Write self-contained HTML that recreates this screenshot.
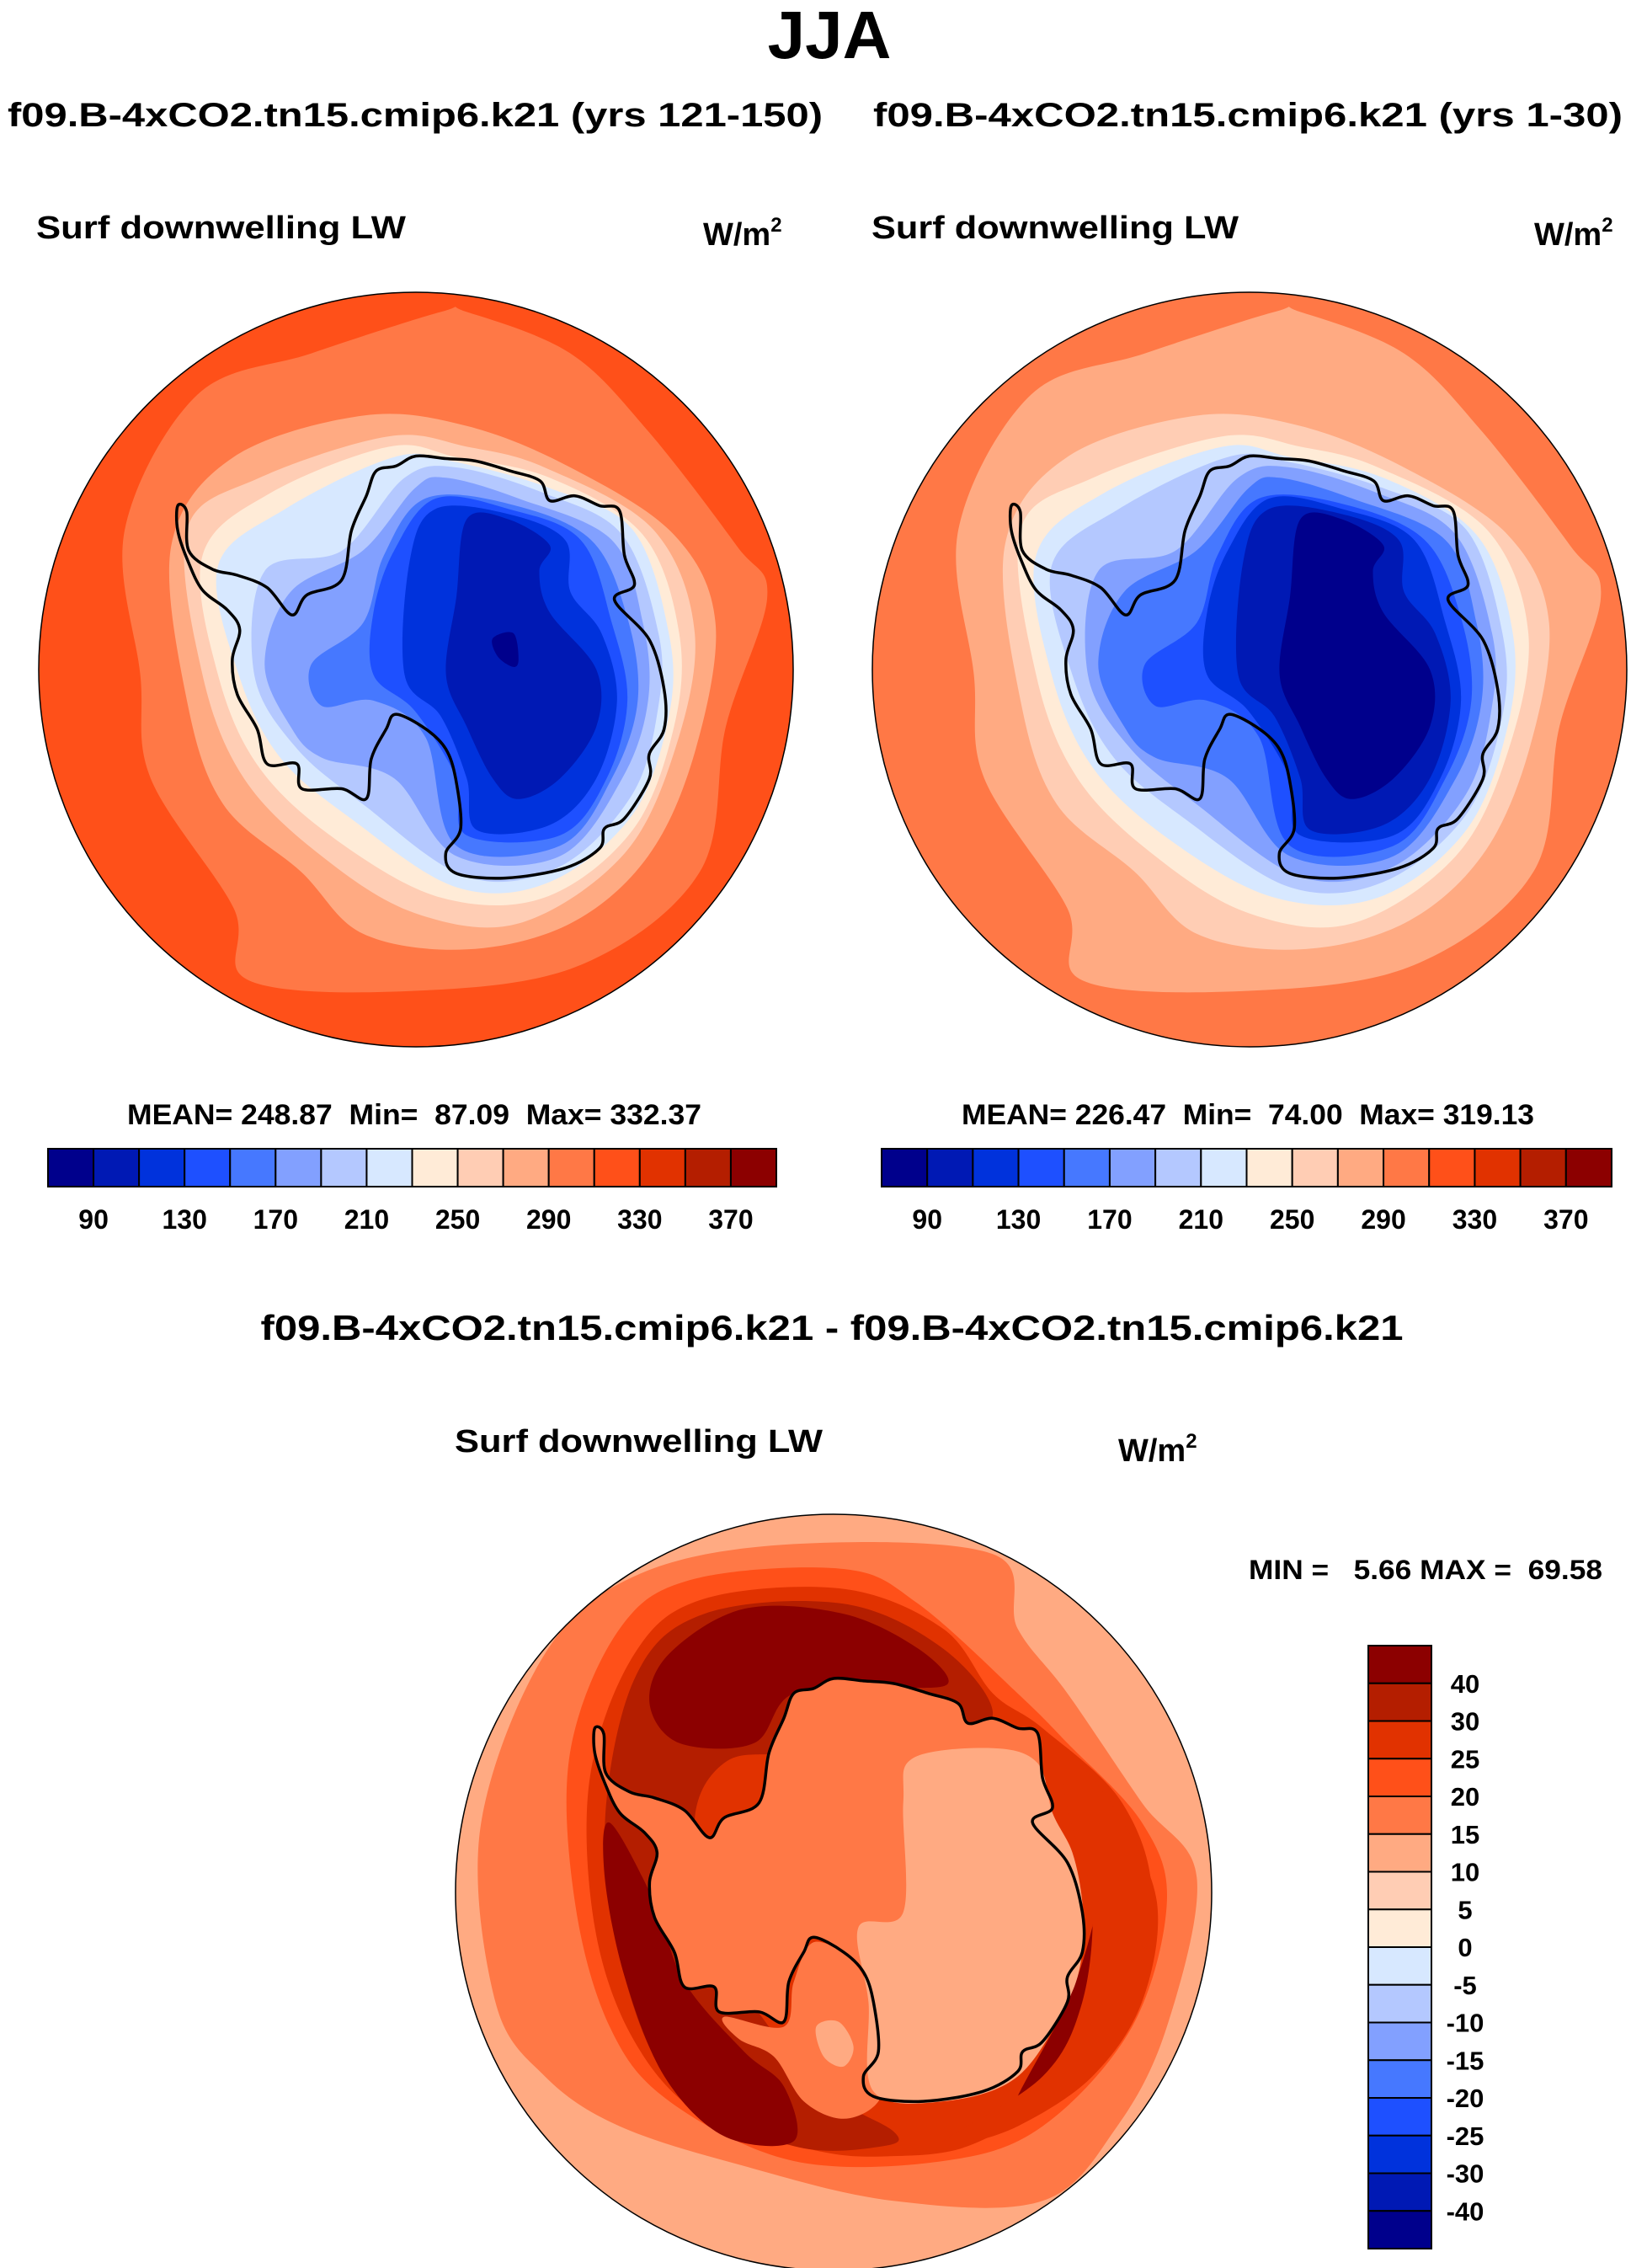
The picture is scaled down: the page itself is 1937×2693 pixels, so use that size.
<!DOCTYPE html>
<html><head><meta charset="utf-8"><style>
html,body{margin:0;padding:0;background:#fff}
svg{display:block}
text{font-family:"Liberation Sans",sans-serif;font-weight:bold;fill:#000;white-space:pre}
</style></head><body>
<svg id="fig" width="1937" height="2693" viewBox="0 0 1937 2693">
<text x="985" y="69" font-size="80" text-anchor="middle">JJA</text>
<text x="9" y="150" font-size="40" textLength="968" lengthAdjust="spacingAndGlyphs">f09.B-4xCO2.tn15.cmip6.k21 (yrs 121-150)</text>
<text x="1037" y="150" font-size="40" textLength="890" lengthAdjust="spacingAndGlyphs">f09.B-4xCO2.tn15.cmip6.k21 (yrs 1-30)</text>
<text x="43" y="283" font-size="38" textLength="439" lengthAdjust="spacingAndGlyphs">Surf downwelling LW</text>
<text x="835" y="291" font-size="38">W/m<tspan font-size="24" dy="-16">2</tspan></text>
<text x="1035" y="283" font-size="38" textLength="436" lengthAdjust="spacingAndGlyphs">Surf downwelling LW</text>
<text x="1822" y="291" font-size="38">W/m<tspan font-size="24" dy="-16">2</tspan></text>
<text x="151" y="1335" font-size="34" textLength="682" lengthAdjust="spacingAndGlyphs">MEAN=&#160;248.87&#160;&#160;Min=&#160;&#160;87.09&#160;&#160;Max=&#160;332.37</text>
<text x="1142" y="1335" font-size="34" textLength="680" lengthAdjust="spacingAndGlyphs">MEAN=&#160;226.47&#160;&#160;Min=&#160;&#160;74.00&#160;&#160;Max=&#160;319.13</text>
<text x="988" y="1591" font-size="42" text-anchor="middle" textLength="1357" lengthAdjust="spacingAndGlyphs">f09.B-4xCO2.tn15.cmip6.k21 - f09.B-4xCO2.tn15.cmip6.k21</text>
<text x="540" y="1724" font-size="38" textLength="437" lengthAdjust="spacingAndGlyphs">Surf downwelling LW</text>
<text x="1328" y="1735" font-size="38">W/m<tspan font-size="24" dy="-16">2</tspan></text>
<text x="1483" y="1875" font-size="32" textLength="420" lengthAdjust="spacingAndGlyphs">MIN&#160;=&#160;&#160;&#160;5.66&#160;MAX&#160;=&#160;&#160;69.58</text>
<g id="maps"></g>
</svg>
<script>
// ---- data ----
const paletteColors = ["#00008c","#0019b4","#0032dc","#1e50ff","#4678ff","#82a0ff","#b4c8ff","#d7e8ff","#ffebd7","#ffcdb4","#ffaa82","#ff7846","#ff5019","#e13200","#b41e00","#8c0000"];
const absTickLabels = ["90","130","170","210","250","290","330","370"];
const diffTickLabels = ["40","30","25","20","15","10","5","0","-5","-10","-15","-20","-25","-30","-40"];
// color index (1..16) of each contour band, drawn outer to inner
const leftBandLevels  = [13,12,11,10,9,8,7,6,5,4,3,2,1];
const rightBandLevels = [12,11,10,9,8,7,6,5,4,3,2,1,1];
const diffBandLevels  = [11,12,13,14,15,16,16,16,14,12,11,12,11];

// contour outlines (source pixel coords of the reference zoom)
const absShapes = [
 null,
 [[850,100],[600,180],[380,260],[240,520],[270,800],[290,1000],[450,1250],[480,1390],[800,1410],[1120,1360],[1350,1180],[1400,900],[1480,650],[1420,550],[1250,330],[1100,180],[900,100]],
 [[700,300],[450,380],[330,550],[360,850],[430,1050],[580,1180],[700,1300],[900,1330],[1100,1280],[1250,1150],[1340,950],[1380,700],[1300,530],[1100,400],[900,320]],
 [[750,340],[500,420],[360,520],[390,800],[470,1000],[620,1150],[800,1260],[1000,1280],[1200,1150],[1300,950],[1340,720],[1260,520],[1050,400],[900,360]],
 [[750,360],[520,450],[390,570],[420,800],[500,980],[650,1120],[850,1230],[1050,1230],[1220,1100],[1300,900],[1310,720],[1240,530],[1060,420],[880,380]],
 [[760,380],[550,480],[420,590],[460,800],[540,960],[680,1080],[880,1210],[1060,1200],[1220,1070],[1290,880],[1290,720],[1220,520],[1060,440],[880,390]],
 [[780,420],[660,560],[510,600],[490,800],[570,940],[700,1050],[900,1190],[1080,1170],[1220,1030],[1270,860],[1270,720],[1200,530],[1050,450],[880,400]],
 [[800,440],[700,560],[560,640],[510,780],[560,900],[620,960],[760,1000],[880,1150],[1080,1150],[1200,1000],[1250,850],[1240,700],[1180,540],[1000,460],[860,420]],
 [[820,460],[740,570],[700,700],[600,780],[620,860],[720,850],[820,920],[880,1130],[1080,1130],[1180,1000],[1230,850],[1210,690],[1140,540],[980,470]],
 [[840,460],[760,560],[720,680],[720,800],[800,870],[880,1000],[900,1110],[1080,1110],[1170,1000],[1210,850],[1180,700],[1120,540],[980,480]],
 [[840,480],[790,580],[780,800],[850,880],[900,1000],[920,1100],[1060,1090],[1150,1000],[1190,850],[1160,720],[1100,640],[1090,540],[980,490]],
 [[900,500],[880,650],[860,800],[900,900],[950,1000],[1000,1040],[1080,1000],[1150,900],[1150,790],[1060,680],[1040,600],[1060,550],[980,500]],
 [[950,730],[990,720],[1000,770],[990,785],[960,765]]
];
const diffShapes = [
 null,
 [[390,140],[200,300],[70,650],[100,1000],[200,1150],[350,1250],[600,1330],[900,1400],[1200,1400],[1350,1250],[1450,1050],[1510,750],[1400,600],[1250,380],[1150,250],[1100,100],[700,80]],
 [[500,150],[350,250],[250,500],[260,800],[330,1050],[450,1200],[700,1320],[1000,1320],[1200,1250],[1380,1050],[1450,800],[1400,640],[1250,480],[1150,380],[950,200],[800,130]],
 [[520,190],[380,300],[290,550],[300,850],[380,1080],[520,1230],[750,1300],[900,1310],[1050,1290],[1200,1200],[1350,1050],[1420,800],[1360,600],[1200,450],[1100,380],[1000,250],[800,170]],
 [[520,220],[380,350],[320,650],[360,950],[470,1180],[700,1290],[880,1290],[900,1260],[760,1180],[650,1050],[560,900],[500,650],[560,520],[700,500],[1000,480],[1100,420],[1000,290],[800,200]],
 [[410,400],[450,300],[600,210],[800,220],[950,290],[1010,360],[900,370],[700,380],[620,480],[470,480]],
 [[330,640],[420,800],[480,960],[600,1100],[680,1170],[700,1280],[560,1270],[440,1150],[360,950],[320,750]],
 [[1320,720],[1370,800],[1360,1000],[1250,1150],[1160,1200],[1150,1190],[1250,1000],[1300,850]],
 [[1250,500],[1350,620],[1430,800],[1400,1000],[1300,1150],[1150,1250],[1020,1290],[1000,1280],[1200,1150],[1280,1000],[1300,800],[1260,650],[1240,550]],
 [[560,1030],[680,1050],[700,960],[740,880],[820,920],[860,1000],[880,1120],[870,1200],[800,1235],[720,1200],[660,1110],[590,1075]],
 [[745,1050],[790,1040],[820,1090],[800,1130],[760,1110]],
 "coast",
 [[940,510],[1100,490],[1190,520],[1220,620],[1260,700],[1280,800],[1280,900],[1250,1000],[1150,1150],[1000,1200],[860,1180],[850,1000],[830,850],[920,820],[920,600]]
];
const coastline = [[700,380],[740,370],[780,350],[840,355],[900,360],[970,380],[1030,400],[1050,440],[1100,430],[1150,450],[1190,460],[1200,550],[1220,610],[1180,640],[1250,720],[1280,820],[1280,900],[1250,950],[1250,1000],[1200,1080],[1160,1100],[1150,1140],[1080,1180],[960,1200],[860,1190],[840,1150],[870,1100],[860,1000],[840,940],[800,900],[740,870],[720,900],[690,960],[680,1040],[630,1020],[550,1020],[540,970],[480,970],[460,900],[420,830],[410,760],[425,700],[400,660],[350,620],[320,560],[300,500],[300,450],[318,462],[322,540],[370,578],[420,590],[480,615],[530,670],[560,630],[630,600],[650,500],[680,430]];

// ---- drawing ----
const NS = "http://www.w3.org/2000/svg";
const root = document.getElementById("maps");
function mk(tag, attrs, parent){ const e=document.createElementNS(NS,tag); for(const k in attrs) e.setAttribute(k,attrs[k]); (parent||root).appendChild(e); return e; }
function smoothPath(pts, proj){
  const p = pts.map(proj); const n=p.length; let d="M"+p[0][0].toFixed(1)+","+p[0][1].toFixed(1);
  for(let i=0;i<n;i++){ const p0=p[(i-1+n)%n],p1=p[i],p2=p[(i+1)%n],p3=p[(i+2)%n];
    const c1=[p1[0]+(p2[0]-p0[0])/6,p1[1]+(p2[1]-p0[1])/6], c2=[p2[0]-(p3[0]-p1[0])/6,p2[1]-(p3[1]-p1[1])/6];
    d+="C"+c1.map(v=>v.toFixed(1)).join(",")+" "+c2.map(v=>v.toFixed(1)).join(",")+" "+p2[0].toFixed(1)+","+p2[1].toFixed(1); }
  return d+"Z";
}
function projector(src, cx, cy, r){ return q=>[cx+(q[0]-src[0])/src[2]*r, cy+(q[1]-src[1])/src[2]*r]; }
const absSrc=[802,790,728], diffSrc=[780,780,760];

function drawMap(name, cx, cy, r, levels, shapes, src){
  const g = mk("g",{});
  
  
  const cid = name+"-clip";
  const cp = mk("clipPath",{id:cid}, g); mk("circle",{cx,cy,r},cp);
  const inner = mk("g",{"clip-path":"url(#"+cid+")"}, g);
  const proj = projector(src,cx,cy,r), cproj = projector(diffSrc,cx,cy,r);
  levels.forEach((lv,i)=>{
    let el;
    if(i===0){ el = mk("circle",{cx,cy,r,fill:paletteColors[lv-1]},inner); }
    else if(shapes[i]==="coast"){ el = mk("path",{d:smoothPath(coastline,cproj),fill:paletteColors[lv-1]},inner); }
    else { el = mk("path",{d:smoothPath(shapes[i],proj),fill:paletteColors[lv-1]},inner); }
    
    
  });
  const coast = mk("path",{d:smoothPath(coastline,cproj),fill:"none",stroke:"#000","stroke-width":3.5,"stroke-linejoin":"round"},inner);
  
  
  const edge = mk("circle",{cx,cy,r,fill:"none",stroke:"#000","stroke-width":1.5},g);
  
  
}
drawMap("left-map", 494, 795, 448, leftBandLevels, absShapes, absSrc);
drawMap("right-map", 1484, 795, 448, rightBandLevels, absShapes, absSrc);
drawMap("difference-map", 990, 2247, 449, diffBandLevels, diffShapes, diffSrc);

function hColorbar(name, x0, x1, y0, y1){
  const g = mk("g",{});
  
  
  const n=paletteColors.length, w=(x1-x0)/n;
  paletteColors.forEach((c,i)=>{
    const b = mk("rect",{x:x0+i*w,y:y0,width:w,height:y1-y0,fill:c,stroke:"#000","stroke-width":2},g);
    
    
  });
  absTickLabels.forEach((t,i)=>{
    const tx = mk("text",{x:x0+(2*i+1)*w,y:1459,"font-size":32,"text-anchor":"middle"},g);
    tx.textContent=t;
    
    
  });
}
hColorbar("left-colorbar", 57, 922, 1364, 1409);
hColorbar("right-colorbar", 1047, 1914, 1364, 1409);

(function(){
  const g = mk("g",{});
  
  
  const x0=1625,x1=1700,y0=1954,y1=2670,n=paletteColors.length,h=(y1-y0)/n;
  paletteColors.slice().reverse().forEach((c,i)=>{
    const b = mk("rect",{x:x0,y:y0+i*h,width:x1-x0,height:h,fill:c,stroke:"#000","stroke-width":2},g);
    
    
  });
  diffTickLabels.forEach((t,i)=>{
    const tx = mk("text",{x:1740,y:y0+(i+1)*h+11,"font-size":31,"text-anchor":"middle"},g);
    tx.textContent=t;
    
    
  });
})();
</script>
</body></html>
